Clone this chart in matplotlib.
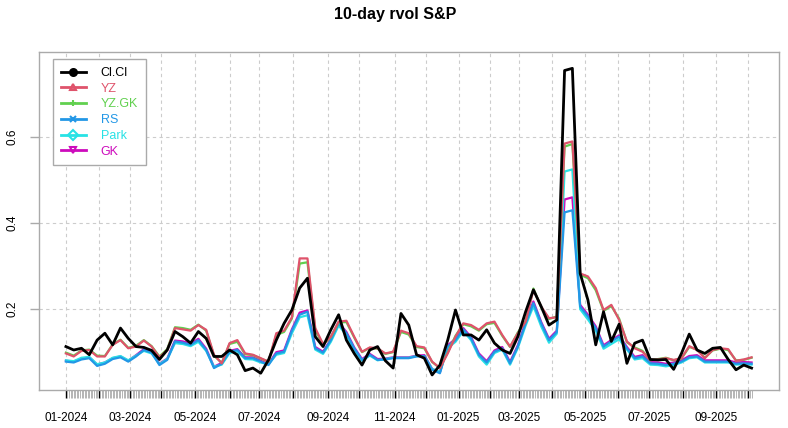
import numpy as np
import pandas as pd
import matplotlib
matplotlib.use('Agg')
from matplotlib import pyplot as plt
from matplotlib.lines import Line2D
from matplotlib.ticker import FixedLocator, FixedFormatter

plt.rcParams['font.family'] = ['Liberation Sans', 'DejaVu Sans']

# NYSE trading calendar for the x axis
holidays = ['2024-01-01', '2024-01-15', '2024-02-19', '2024-03-29', '2024-05-27',
            '2024-06-19', '2024-07-04', '2024-09-02', '2024-11-28', '2024-12-25',
            '2025-01-01', '2025-01-09', '2025-01-20', '2025-02-17', '2025-04-18',
            '2025-05-26', '2025-06-19', '2025-07-04', '2025-09-01']
days = pd.bdate_range('2024-01-02', '2025-10-03')
days = days[~days.isin(pd.to_datetime(holidays))]

# values, one every 5 trading days
sample_step = 5

clcl = [0.113, 0.105, 0.109, 0.094, 0.128, 0.144, 0.117, 0.156, 0.132, 0.113,
        0.111, 0.104, 0.083, 0.105, 0.148, 0.136, 0.121, 0.148, 0.132, 0.090,
        0.090, 0.105, 0.094, 0.057, 0.063, 0.051, 0.082, 0.128, 0.167, 0.198,
        0.249, 0.272, 0.136, 0.113, 0.152, 0.187, 0.128, 0.097, 0.070, 0.105,
        0.113, 0.080, 0.063, 0.190, 0.163, 0.094, 0.086, 0.047, 0.070, 0.128,
        0.198, 0.140, 0.140, 0.128, 0.152, 0.121, 0.105, 0.097, 0.136, 0.194,
        0.245, 0.206, 0.163, 0.175, 0.755, 0.760, 0.283, 0.221, 0.117, 0.194,
        0.125, 0.165, 0.074, 0.121, 0.128, 0.083, 0.082, 0.083, 0.060, 0.097,
        0.142, 0.105, 0.097, 0.109, 0.111, 0.083, 0.059, 0.070, 0.063]

yz = [0.097, 0.090, 0.103, 0.105, 0.090, 0.090, 0.117, 0.128, 0.109, 0.113,
      0.127, 0.113, 0.088, 0.105, 0.156, 0.153, 0.150, 0.163, 0.152, 0.094,
      0.074, 0.121, 0.128, 0.097, 0.094, 0.086, 0.078, 0.144, 0.150, 0.181,
      0.318, 0.318, 0.156, 0.119, 0.136, 0.171, 0.173, 0.136, 0.101, 0.111,
      0.109, 0.097, 0.101, 0.150, 0.144, 0.114, 0.111, 0.078, 0.063, 0.097,
      0.136, 0.167, 0.163, 0.152, 0.167, 0.171, 0.140, 0.113, 0.144, 0.171,
      0.245, 0.206, 0.179, 0.181, 0.585, 0.590, 0.283, 0.276, 0.249, 0.198,
      0.210, 0.175, 0.125, 0.109, 0.101, 0.082, 0.083, 0.086, 0.082, 0.086,
      0.114, 0.105, 0.086, 0.105, 0.109, 0.107, 0.080, 0.083, 0.088]

yzgk = [0.099, 0.092, 0.104, 0.106, 0.092, 0.091, 0.118, 0.129, 0.110, 0.115,
        0.128, 0.114, 0.090, 0.107, 0.158, 0.156, 0.152, 0.164, 0.150, 0.092,
        0.075, 0.119, 0.124, 0.095, 0.093, 0.085, 0.078, 0.140, 0.147, 0.178,
        0.306, 0.309, 0.152, 0.117, 0.135, 0.169, 0.170, 0.134, 0.100, 0.110,
        0.108, 0.096, 0.100, 0.147, 0.141, 0.112, 0.109, 0.077, 0.063, 0.099,
        0.138, 0.165, 0.160, 0.150, 0.165, 0.168, 0.138, 0.112, 0.146, 0.172,
        0.248, 0.204, 0.177, 0.183, 0.578, 0.584, 0.280, 0.272, 0.244, 0.196,
        0.207, 0.178, 0.123, 0.111, 0.103, 0.081, 0.084, 0.087, 0.081, 0.085,
        0.112, 0.106, 0.087, 0.104, 0.108, 0.105, 0.081, 0.082, 0.087]

rs = [0.078, 0.076, 0.083, 0.086, 0.068, 0.073, 0.084, 0.088, 0.078, 0.090,
      0.105, 0.099, 0.070, 0.082, 0.125, 0.122, 0.117, 0.128, 0.105, 0.063,
      0.073, 0.101, 0.105, 0.086, 0.086, 0.078, 0.070, 0.097, 0.101, 0.150,
      0.187, 0.194, 0.109, 0.099, 0.128, 0.167, 0.144, 0.109, 0.082, 0.094,
      0.082, 0.083, 0.086, 0.086, 0.086, 0.090, 0.091, 0.059, 0.051, 0.113,
      0.128, 0.153, 0.132, 0.094, 0.076, 0.101, 0.109, 0.074, 0.113, 0.167,
      0.214, 0.167, 0.128, 0.147, 0.425, 0.430, 0.206, 0.183, 0.156, 0.113,
      0.125, 0.136, 0.109, 0.086, 0.090, 0.074, 0.073, 0.070, 0.073, 0.078,
      0.088, 0.090, 0.078, 0.078, 0.078, 0.078, 0.073, 0.074, 0.073]

park = [0.081, 0.079, 0.087, 0.089, 0.072, 0.076, 0.087, 0.091, 0.081, 0.092,
        0.103, 0.097, 0.072, 0.084, 0.121, 0.119, 0.114, 0.124, 0.103, 0.066,
        0.071, 0.098, 0.102, 0.084, 0.083, 0.076, 0.072, 0.094, 0.098, 0.144,
        0.181, 0.186, 0.106, 0.096, 0.124, 0.162, 0.140, 0.106, 0.080, 0.092,
        0.081, 0.084, 0.087, 0.087, 0.087, 0.091, 0.090, 0.061, 0.054, 0.110,
        0.124, 0.149, 0.128, 0.090, 0.071, 0.098, 0.106, 0.071, 0.110, 0.162,
        0.207, 0.160, 0.122, 0.143, 0.520, 0.525, 0.200, 0.176, 0.150, 0.108,
        0.119, 0.130, 0.106, 0.083, 0.086, 0.071, 0.070, 0.067, 0.070, 0.076,
        0.086, 0.088, 0.076, 0.076, 0.076, 0.076, 0.071, 0.072, 0.071]

gk = [0.080, 0.078, 0.085, 0.088, 0.071, 0.076, 0.086, 0.090, 0.080, 0.093,
      0.107, 0.101, 0.073, 0.085, 0.127, 0.125, 0.120, 0.131, 0.108, 0.066,
      0.075, 0.103, 0.107, 0.088, 0.088, 0.080, 0.072, 0.100, 0.104, 0.153,
      0.192, 0.197, 0.112, 0.101, 0.130, 0.169, 0.147, 0.111, 0.084, 0.096,
      0.084, 0.085, 0.088, 0.088, 0.088, 0.092, 0.093, 0.061, 0.053, 0.116,
      0.131, 0.156, 0.135, 0.097, 0.079, 0.104, 0.112, 0.077, 0.116, 0.170,
      0.218, 0.170, 0.131, 0.150, 0.455, 0.460, 0.210, 0.187, 0.160, 0.116,
      0.128, 0.139, 0.112, 0.089, 0.093, 0.077, 0.076, 0.073, 0.076, 0.081,
      0.091, 0.093, 0.081, 0.081, 0.081, 0.081, 0.076, 0.077, 0.076]

names = ['Cl.Cl', 'YZ', 'YZ.GK', 'RS', 'Park', 'GK']
series = [clcl, yz, yzgk, rs, park, gk]
colors = ['black', '#DF536B', '#61D04F', '#2297E6', '#28E2E5', '#CD0BBC']
markers = ['o', '^', '+', 'x', 'D', 'v']

n = len(days)
x = np.arange(len(clcl)) * sample_step

fig = plt.figure(figsize=(7.88, 4.28), dpi=100)
ax = fig.add_axes([38.5 / 788, 1 - 390 / 428, 740.5 / 788, 338 / 428])

# colored series first, black on top
for name, vals, col in list(zip(names, series, colors))[::-1]:
    lw = 2.0 if col == 'black' else 1.6
    z = 5 if col == 'black' else 3
    ax.plot(x, vals, color=col, lw=lw, zorder=z)

ax.set_xlim(-0.04 * (n - 1), 1.04 * (n - 1))
ax.set_ylim(0.012, 0.798)

# month ticks
month_idx = [i for i in range(n) if i == 0 or days[i].month != days[i - 1].month]
month_lab = [days[i].strftime('%m-%Y') if days[i].month % 2 == 1 else '' for i in month_idx]
ax.xaxis.set_major_locator(FixedLocator(month_idx))
ax.xaxis.set_major_formatter(FixedFormatter(month_lab))
ax.xaxis.set_minor_locator(FixedLocator(list(range(n))))
ax.tick_params(axis='x', which='major', length=5.5, width=1.0, color='black',
               pad=10.5, labelsize=8.5)
ax.tick_params(axis='x', which='minor', length=5.5, width=0.6, color='#A8A8A8')

ax.set_yticks([0.2, 0.4, 0.6])
ax.set_yticklabels(['0.2', '0.4', '0.6'], rotation=90, va='center')
ax.tick_params(axis='y', length=6.5, width=1.0, color='#AAAAAA', pad=8, labelsize=8.5)

for sp in ax.spines.values():
    sp.set_color('#AAAAAA')
    sp.set_linewidth(1.0)

for xi in month_idx:
    ax.axvline(xi, color='#CCCCCC', lw=0.8, ls=(0, (3, 3)), zorder=1)
for yv in [0.2, 0.4, 0.6]:
    ax.axhline(yv, color='#CCCCCC', lw=0.8, ls=(0, (3, 3)), zorder=1)

handles = []
for name, col, mk in zip(names, colors, markers):
    face = col if mk == 'o' else 'none'
    handles.append(Line2D([0], [0], color=col, lw=2.0, marker=mk, markersize=5,
                          markerfacecolor=face, markeredgecolor=col, markeredgewidth=1.5))
leg = ax.legend(handles, names, loc='upper left', bbox_to_anchor=(0.02, 0.978),
                borderaxespad=0, fancybox=False, framealpha=1, edgecolor='#AAAAAA',
                fontsize=9, labelspacing=0.3, handlelength=2.0, handletextpad=1.2,
                borderpad=0.6, labelcolor='linecolor', numpoints=1)
leg.get_frame().set_linewidth(1.0)
leg.set_zorder(10)

fig.text(395 / 788, 1 - 15 / 428, '10-day rvol S&P', ha='center', va='center',
         fontsize=11.5, fontweight='bold')

fig.savefig('out.png', dpi=100)
